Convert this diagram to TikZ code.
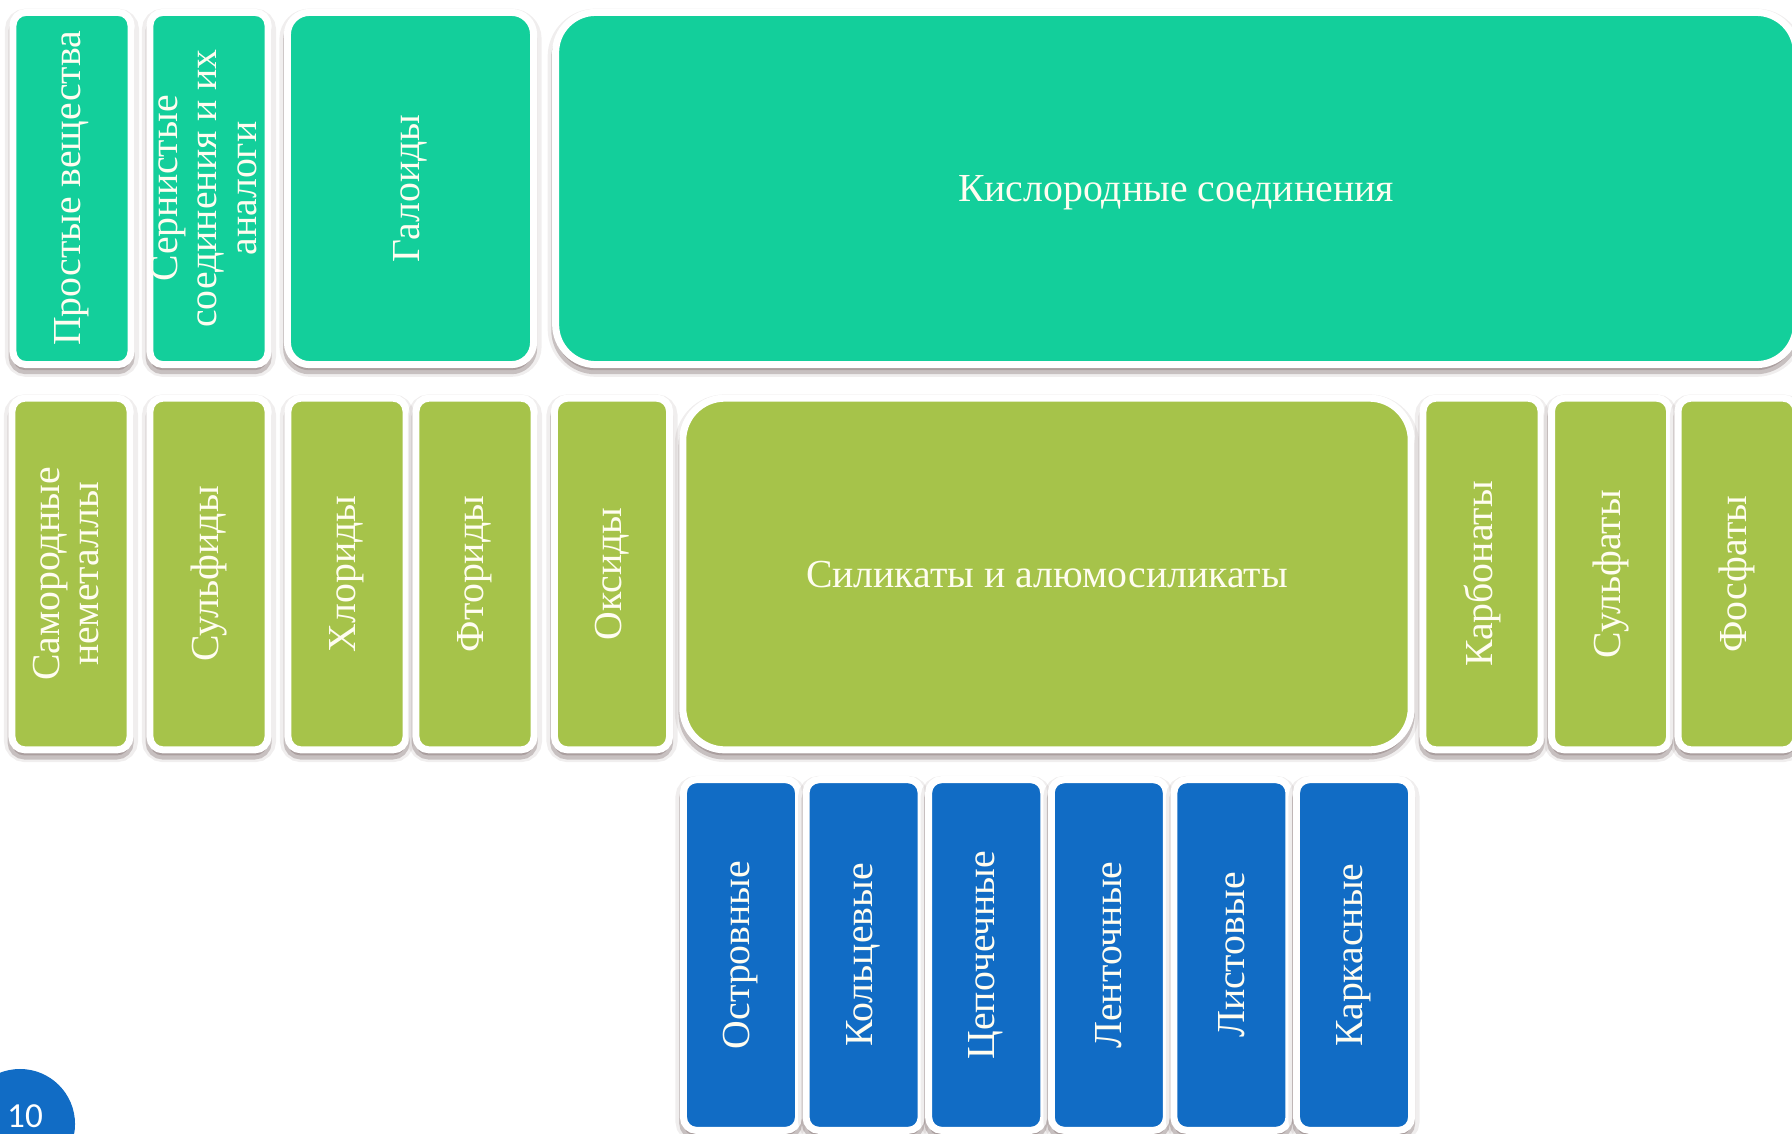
\documentclass[tikz,border=0pt]{standalone}
\usepackage{fontspec}
\setmainfont{Liberation Serif}
\newfontfamily\pagefont{Carlito}
\usetikzlibrary{shadows}
\definecolor{tealfill}{RGB}{19,207,155}
\definecolor{leaffill}{RGB}{166,195,74}
\definecolor{bluefill}{RGB}{17,108,197}
\definecolor{shadowtone}{RGB}{105,85,85}
\definecolor{labeltext}{RGB}{255,253,240}
\tikzstyle{box}=[rectangle,draw=white,line width=0.07cm,rounded corners=0.13cm,inner sep=0pt,text=labeltext,font=\fontsize{11.3pt}{11.2pt}\selectfont,
  drop shadow={shadow xshift=0pt,shadow yshift=-1.2pt,opacity=0.10,fill=shadowtone,draw=shadowtone,line width=0.16cm},
  drop shadow={shadow xshift=-0.1pt,shadow yshift=-1.6pt,opacity=0.30,fill=shadowtone,draw=shadowtone,line width=0.08cm}]
\tikzstyle{kindbox}=[box,fill=tealfill,minimum height=3.52cm]
\tikzstyle{groupbox}=[box,fill=leaffill,minimum height=3.515cm]
\tikzstyle{typebox}=[box,fill=bluefill,minimum width=1.15cm,minimum height=3.505cm]
\tikzstyle{slim}=[minimum width=1.18cm]

\begin{document}
\begin{tikzpicture}[x=0.01cm,y=-0.01cm]

  \useasboundingbox (0,0) rectangle (1792,1133);

  % top row
  \node[kindbox,slim] (prost) at (72,188.5) {\rotatebox{90}{Простые вещества}};
  \node[kindbox,slim] (sern) at (209,188.5) {\rotatebox{90}{\begin{tabular}{@{}c@{}}Сернистые\\соединения и их\\аналоги\end{tabular}}};
  \node[kindbox,minimum width=2.46cm,rounded corners=0.22cm] (galo) at (410.5,188.5) {\rotatebox{90}{Галоиды}};
  \node[kindbox,minimum width=12.4cm,rounded corners=0.4cm,text depth=0pt] (kisl) at (1176,188.5) {Кислородные соединения};

  % middle row
  \node[groupbox,slim] (samo) at (71,574) {\rotatebox{90}{\begin{tabular}{@{}c@{}}Самородные\\неметаллы\end{tabular}}};
  \node[groupbox,slim] (sulfid) at (209,574) {\rotatebox{90}{Сульфиды}};
  \node[groupbox,slim] (chlor) at (347,574) {\rotatebox{90}{Хлориды}};
  \node[groupbox,slim] (fluor) at (475,574) {\rotatebox{90}{Фториды}};
  \node[groupbox,minimum width=1.15cm] (oxid) at (612,574) {\rotatebox{90}{Оксиды}};
  \node[groupbox,minimum width=7.28cm,rounded corners=0.42cm,text depth=0pt] (silic) at (1047,574) {Силикаты и алюмосиликаты};
  \node[groupbox,slim] (carbon) at (1482,574) {\rotatebox{90}{Карбонаты}};
  \node[groupbox,slim] (sulfat) at (1610.5,574) {\rotatebox{90}{Сульфаты}};
  \node[groupbox,slim] (phosph) at (1737,574) {\rotatebox{90}{Фосфаты}};

  % silicate types
  \node[typebox] (ostr) at (741,955) {\rotatebox{90}{Островные}};
  \node[typebox] (kolc) at (863.6,955) {\rotatebox{90}{Кольцевые}};
  \node[typebox] (cep) at (986.2,955) {\rotatebox{90}{Цепочечные}};
  \node[typebox] (lent) at (1108.8,955) {\rotatebox{90}{Ленточные}};
  \node[typebox] (list) at (1231.4,955) {\rotatebox{90}{Листовые}};
  \node[typebox] (kark) at (1354,955) {\rotatebox{90}{Каркасные}};

  % slide number
  \node[circle,fill=bluefill,minimum size=1.1cm,inner sep=0pt] (dot) at (20,1124) {};
  \node[text=white,font=\pagefont\fontsize{10pt}{12pt}\selectfont] (pg) at (25,1116) {10};

\end{tikzpicture}
\end{document}
